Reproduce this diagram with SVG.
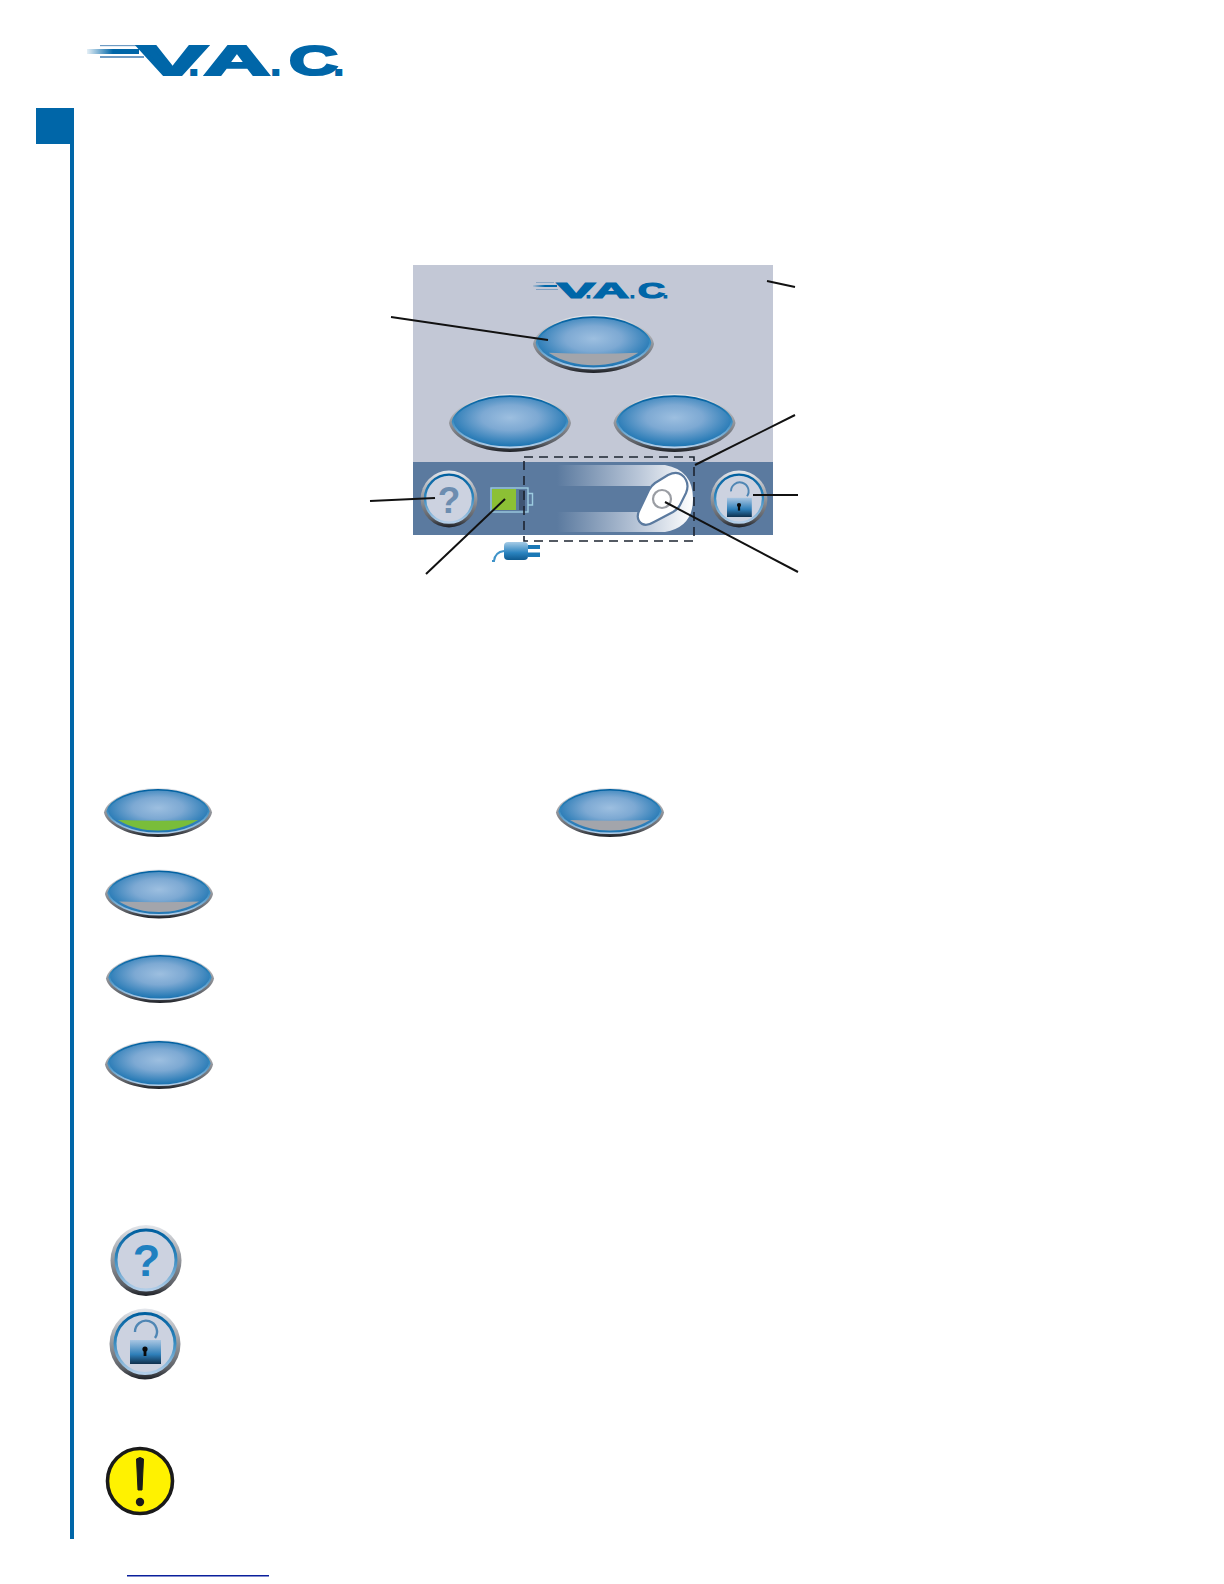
<svg xmlns="http://www.w3.org/2000/svg" xmlns:xlink="http://www.w3.org/1999/xlink" width="1224" height="1584" viewBox="0 0 1224 1584">
<style>
.leader{stroke:#111;stroke-width:2;fill:none}
.logo{font-family:"Liberation Sans",Arial,sans-serif;font-weight:700;fill:#0066a8;stroke:#0066a8}
.q{font-family:"Liberation Sans",Arial,sans-serif;font-weight:700;text-anchor:middle}
</style>
<defs>
<linearGradient id="bevel" x1="0" y1="0" x2="0" y2="1"><stop offset="0" stop-color="#e4e7ec"/><stop offset=".45" stop-color="#9a9da3"/><stop offset=".85" stop-color="#5c5f65"/><stop offset="1" stop-color="#1d2026"/></linearGradient>
<linearGradient id="rim" x1="0" y1="0" x2="0" y2="1"><stop offset="0" stop-color="#005f9f"/><stop offset=".45" stop-color="#2f86bd"/><stop offset="1" stop-color="#b4cfe9"/></linearGradient>
<radialGradient id="face" cx=".5" cy=".42" r=".55"><stop offset="0" stop-color="#9dbfe0"/><stop offset=".45" stop-color="#7da9d3"/><stop offset="1" stop-color="#1f76b3"/></radialGradient>
<linearGradient id="lockbody" x1="0" y1="0" x2="0" y2="1"><stop offset="0" stop-color="#a9c6e2"/><stop offset=".6" stop-color="#2f7fb9"/><stop offset="1" stop-color="#0f2f4c"/></linearGradient>
<linearGradient id="slide" x1="0" y1="0" x2="1" y2="0"><stop offset="0" stop-color="#5b7a9f"/><stop offset=".6" stop-color="#b9c6d8"/><stop offset="1" stop-color="#ffffff"/></linearGradient>
<linearGradient id="streak" x1="0" y1="0" x2="1" y2="0"><stop offset="0" stop-color="#0066a8" stop-opacity=".1"/><stop offset=".5" stop-color="#0066a8"/></linearGradient>
<linearGradient id="plugbody" x1="0" y1="0" x2="0" y2="1"><stop offset="0" stop-color="#a5cbe6"/><stop offset=".6" stop-color="#2a83bf"/><stop offset="1" stop-color="#0f5a8f"/></linearGradient>
<path id="lens" d="M-54,0 C-52,-12 -29,-24.5 0,-24.5 C29,-24.5 52,-12 54,0 C52,12 29,24.5 0,24.5 C-29,24.5 -52,12 -54,0Z"/>
<path id="crescent" d="M-40,7.5 Q0,9 40,7.5 C28,15 14,18 0,18 C-14,18 -28,15 -40,7.5Z"/>
<g id="oval">
<use xlink:href="#lens" href="#lens" fill="url(#bevel)"/>
<use xlink:href="#lens" href="#lens" transform="translate(0 -1) scale(.94 .89)" fill="url(#face)" stroke="url(#rim)" stroke-width="1.8"/>
</g>
<g id="round">
<circle r="35.5" fill="url(#bevel)"/>
<circle cy="-.5" r="30" fill="#ccd2e0" stroke="url(#rim)" stroke-width="3"/>
</g>
<g id="lock">
<path d="M-10,-12 A11,11 0 1 1 10,-6" fill="none" stroke="#4f86b4" stroke-width="2.4"/>
<rect x="-15" y="-4" width="31" height="24" fill="url(#lockbody)"/>
<circle cx="0" cy="5" r="2.6" fill="#0a0a0a"/><rect x="-1.4" y="5" width="2.8" height="7" fill="#0a0a0a"/>
</g>
</defs>

<g id="sidebar"><rect x="36" y="108" width="38" height="36" fill="#0066a8"/><rect x="70" y="108" width="4" height="1431" fill="#0066a8"/></g>

<g id="logo-top">
<rect x="87" y="49" width="52" height="5" fill="url(#streak)"/>
<rect x="100" y="45" width="36" height="1.2" fill="#6f9cc4"/>
<rect x="100" y="56" width="44" height="2" fill="#6f9cc4"/>
<text class="logo" y="74.5" font-size="42" stroke-width="2.2"><tspan x="138" textLength="69" lengthAdjust="spacingAndGlyphs">V</tspan><tspan x="189" font-size="34">.</tspan><tspan x="204" textLength="66" lengthAdjust="spacingAndGlyphs">A</tspan><tspan x="271" font-size="34">.</tspan><tspan x="289" textLength="49" lengthAdjust="spacingAndGlyphs">C</tspan><tspan x="334" font-size="34">.</tspan></text>
</g>

<g id="panel">
<rect x="413" y="265" width="360" height="197" fill="#c3c8d6"/>
<rect x="413" y="462" width="360" height="73" fill="#5b7a9f"/>
</g>
<g id="logo-panel">
<rect x="533" y="285" width="24" height="2" fill="url(#streak)"/>
<rect x="536" y="282" width="18" height=".8" fill="#7f9fc0"/>
<rect x="536" y="289" width="22" height="1" fill="#7f9fc0"/>
<text class="logo" y="297.5" font-size="21.5" stroke-width="1.2"><tspan x="557" textLength="38" lengthAdjust="spacingAndGlyphs">V</tspan><tspan x="586" font-size="17">.</tspan><tspan x="593" textLength="36" lengthAdjust="spacingAndGlyphs">A</tspan><tspan x="630" font-size="17">.</tspan><tspan x="638" textLength="27" lengthAdjust="spacingAndGlyphs">C</tspan><tspan x="663" font-size="17">.</tspan></text>
</g>
<g id="panel-btn-top">
<use xlink:href="#oval" href="#oval" transform="translate(593.5 344) scale(1.12 1.18)"/>
<use xlink:href="#crescent" href="#crescent" transform="translate(593.5 344) scale(1.12 1.18)" fill="#a3a5ab"/>
</g>
<g id="panel-btn-left"><use xlink:href="#oval" href="#oval" transform="translate(510 423) scale(1.13 1.18)"/></g>
<g id="panel-btn-right"><use xlink:href="#oval" href="#oval" transform="translate(674.5 423) scale(1.13 1.18)"/></g>
<g id="panel-help"><use xlink:href="#round" href="#round" transform="translate(449 499) scale(.8)"/><text class="q" x="449" y="513" font-size="37" fill="#6d8db0">?</text></g>
<g id="panel-lock"><use xlink:href="#round" href="#round" transform="translate(739 499) scale(.8)"/><use xlink:href="#lock" href="#lock" transform="translate(739 501) scale(.8)"/></g>
<g id="battery">
<rect x="519" y="490" width="6" height="20" fill="#3f5573"/>
<path d="M528,493.5 H532.5 V505 H528" fill="none" stroke="#9ccbe0" stroke-width="1.4"/>
<rect x="491" y="488" width="37" height="24" fill="none" stroke="#9ccbe0" stroke-width="1.4"/>
<rect x="492" y="489" width="24" height="21" fill="#8cc035"/>
</g>
<g id="slider">
<path d="M557,465 H665 Q693,470 693,499 Q693,527 665,532 H557 V512 H650 V486 H557Z" fill="url(#slide)"/>
<path d="M655,483 L668,475 Q680,469 686,480 Q689,486 686,493 L680,505 Q678,509 673,512 L654,522 Q644,528 639,521 Q636,516 640,509 L649,490 Q651,486 655,483Z" fill="#fff" stroke="#5b7a9f" stroke-width="2.2"/>
<circle cx="662" cy="499" r="9" fill="none" stroke="#9a9da3" stroke-width="2.2"/>
<rect x="524" y="457" width="170" height="84" fill="none" stroke="#1c2430" stroke-width="1.6" stroke-dasharray="9 6"/>
</g>
<g id="plug">
<path d="M492,561 H494 Q495,552 504,551" fill="none" stroke="#3f93c9" stroke-width="2"/>
<rect x="504" y="542" width="24" height="18" rx="4" fill="url(#plugbody)"/>
<rect x="528" y="545" width="12" height="4" fill="#1a78b6"/>
<rect x="528" y="552.5" width="12" height="4.5" fill="#1a78b6"/>
</g>

<g id="connectors">
<path class="leader" d="M391,317 L548,340"/>
<path class="leader" d="M767,281 L795,287"/>
<path class="leader" d="M795,415 L695,465"/>
<path class="leader" d="M798,495 H753"/>
<path class="leader" d="M798,572 L665,502"/>
<path class="leader" d="M370,501 L435,498"/>
<path class="leader" d="M426,574 L505,499"/>
</g>

<g id="btn-green"><use xlink:href="#oval" href="#oval" x="158" y="812.5"/><use xlink:href="#crescent" href="#crescent" x="158" y="812.5" fill="#79bd3a"/></g>
<g id="btn-grey"><use xlink:href="#oval" href="#oval" x="159" y="894"/><use xlink:href="#crescent" href="#crescent" x="159" y="894" fill="#a3a5ab"/></g>
<g id="btn-plain-1"><use xlink:href="#oval" href="#oval" x="160" y="978.5"/></g>
<g id="btn-plain-2"><use xlink:href="#oval" href="#oval" x="159" y="1064.5"/></g>
<g id="btn-grey-2"><use xlink:href="#oval" href="#oval" x="610" y="812.5"/><use xlink:href="#crescent" href="#crescent" x="610" y="812.5" fill="#a3a5ab"/></g>

<g id="help-large"><use xlink:href="#round" href="#round" x="146" y="1260.5"/><text class="q" x="146.5" y="1276" font-size="45" fill="#1f80c0">?</text></g>
<g id="lock-large"><use xlink:href="#round" href="#round" x="145" y="1344"/><use xlink:href="#lock" href="#lock" x="145" y="1344"/></g>

<g id="warning">
<circle cx="140" cy="1481" r="32.5" fill="#fff200" stroke="#1a1a1a" stroke-width="3.6"/>
<path d="M136.5,1459 Q140,1456 143.5,1459 L142,1490 H138Z" fill="#1a1a1a" stroke="#1a1a1a" stroke-width="1"/>
<circle cx="140" cy="1502" r="4.2" fill="#1a1a1a"/>
</g>
<g id="link-rule"><rect x="127" y="1575" width="142" height="1.5" fill="#0a1f9c"/></g>
</svg>
